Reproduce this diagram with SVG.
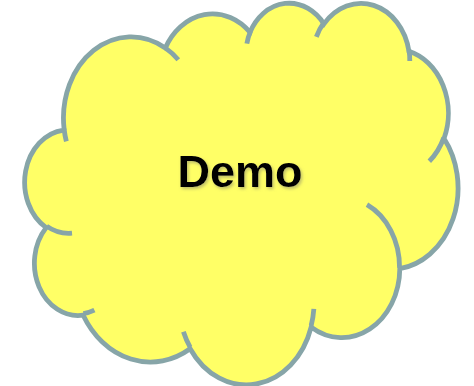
<svg xmlns="http://www.w3.org/2000/svg" width="474" height="386" viewBox="0 0 474 386">
  <defs>
    <style>
      .cloud-body { fill: #ffff66; stroke: #87a5a8; stroke-width: 4.8; vector-effect: non-scaling-stroke; }
      .cloud-deco { fill: none; stroke: #87a5a8; stroke-width: 4.8; vector-effect: non-scaling-stroke; }
      .label { font-family: "Liberation Sans", Arial, sans-serif; font-weight: bold; font-size: 45px; fill: #000000; }
    </style>
    <filter id="shadow" x="-20%" y="-30%" width="140%" height="160%">
      <feDropShadow dx="1.5" dy="2" stdDeviation="1.5" flood-color="#8a8a6a" flood-opacity="0.55"/>
    </filter>
  </defs>
  <g id="demo-cloud">
    <g transform="translate(25,2) scale(0.01002,0.00883)">
      <path class="cloud-body" d="M3900,14370 A6753,9190 0 0 1 14005.9,5202.8 A5333,7267 0 0 1 22456.4,3433.0 A4365,5945 0 0 1 29834.3,2483.3 A4857,6595 0 0 1 38319.3,5578.9 A5333,7273 0 0 1 41819.8,15462.9 A6775,9220 0 0 1 37405.1,30204.6 A5785,7867 0 0 1 28556.7,36814.8 A6752,9215 0 0 1 16481.3,39266.1 A7720,10543 0 0 1 5805.4,35470.9 A4360,5918 0 0 1 2112.8,25551.0 A4345,5945 0 0 1 3863.1,14507.8 Z"/>
      <path class="cloud-deco" d="M4693,26177 A4345,5945 0 0 1 2159.4,25379.6 M6928,34899 A4360,5918 0 0 1 5819.8,35280.4 M16478,39090 A6752,9215 0 0 1 15810.1,37348.9 M28827,34751 A6752,9215 0 0 1 28560.4,36660.1 M34129,22954 A5785,7867 0 0 1 37380.5,30089.7 M41798,15354 A5333,7273 0 0 1 40350.5,18029.2 M38324,5426 A4857,6595 0 0 1 38400.4,6689.5 M29078,3952 A4857,6595 0 0 1 29819.8,2340.0 M22141,4720 A4365,5945 0 0 1 22500.1,3330.3 M14000,5192 A6753,9190 0 0 1 15299.0,6539.8 M4127,15789 A6753,9190 0 0 1 3900.2,14370.2"/>
    </g>
    <text class="label" x="240" y="187" text-anchor="middle" filter="url(#shadow)">Demo</text>
  </g>
  <g id="connectors"/>
</svg>
